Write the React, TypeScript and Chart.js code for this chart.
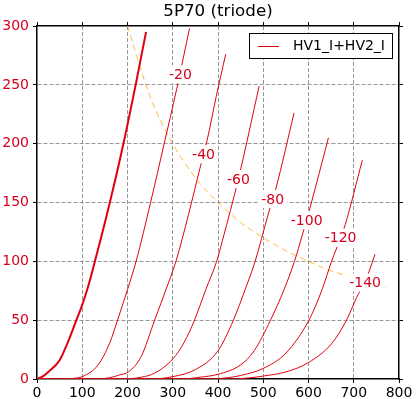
import React, { useEffect, useRef } from 'react';
import { Chart, registerables } from 'chart.js';

Chart.register(...registerables);

// ---- text ----
const chartTitle = '5P70 (triode)';
const legendLabel = 'HV1_I+HV2_I';

// ---- axes ----
const xMin = 0, xMax = 800, xStep = 100;
const yMin = 0, yMax = 300, yStep = 50;

// ---- grid voltages (one curve each) ----
const gridVoltages = [0, -20, -40, -60, -80, -100, -120, -140];

// ---- plate curves: [plate voltage V, plate current mA] ----
const vg0 = [[0, 0], [12, 2], [25, 6], [50, 16], [69, 32], [87, 50], [100, 63], [111, 76], [128, 100], [161, 150], [191, 200], [218, 250], [241, 295]];
const vg20 = [[0, 0], [60, 0], [80, 0.5], [100, 2], [135, 12], [161, 31], [178, 50], [200, 76], [219, 100], [251, 150], [281, 200], [309, 247], [337, 298]];
const vg40 = [[0, 0], [130, 0], [160, 1], [183, 3.5], [202, 6], [230, 19], [260, 50], [285, 76], [307, 100], [335, 140], [360, 179], [376, 203], [396, 240], [417, 276]];
const vg60 = [[0, 0], [190, 0], [230, 1.5], [260, 5], [300, 17], [325, 31], [348, 50], [373, 76], [397, 100], [410, 118], [445, 170], [491, 249]];
const vg80 = [[0, 0], [250, 0], [300, 2], [350, 8], [400, 24], [434, 50], [460, 76], [482, 100], [511, 140], [528, 162], [568, 226]];
const vg100 = [[0, 0], [320, 0], [360, 1.5], [400, 4], [450, 12], [480, 24], [516, 50], [546, 76], [569, 100], [586, 122], [603, 145], [644, 205]];
const vg120 = [[0, 0], [380, 0], [420, 1], [450, 3], [500, 9], [550, 22], [601, 50], [630, 76], [651, 100], [671, 120], [681, 131], [719, 186]];
const vg140 = [[0, 0], [430, 0], [470, 1], [500, 2.5], [550, 6], [600, 14], [651, 30], [684, 50], [706, 69], [725, 83], [734, 91.5], [747, 106]];
const curves = [vg0, vg20, vg40, vg60, vg80, vg100, vg120, vg140];

// ---- curve label anchors (data coordinates) ----
const labelV = [null, 317, 368, 445, 521, 596, 671, 725];
const labelI = [null, 259, 191, 170, 153, 135, 120, 82];

// ---- max plate dissipation line ----
const pdissV = [200, 250, 300, 350, 400, 450, 500, 550, 600, 650, 700, 770];
const pdissI = [300, 240, 200, 171, 150, 133, 120, 109, 100, 92, 86, 78];

const LINE_RED = 'rgb(224,0,16)';
const TEXT_RED = 'rgb(214,0,28)';
const ORANGE = 'rgba(255,165,0,0.75)';
const GRID = 'rgba(150,150,150,1)';
const FONT = "'DejaVu Sans', sans-serif";

const curveLabelPlugin = {
  id: 'curveLabels',
  afterDatasetsDraw(chart: any) {
    const { ctx, scales } = chart;
    ctx.save();
    ctx.font = `14px ${FONT}`;
    ctx.textAlign = 'center';
    ctx.textBaseline = 'middle';
    gridVoltages.forEach((vg, i) => {
      const v = labelV[i];
      const c = labelI[i];
      if (v == null || c == null) return;
      const px = scales.x.getPixelForValue(v);
      const py = scales.y.getPixelForValue(c);
      const text = String(vg);
      const w = ctx.measureText(text).width;
      ctx.fillStyle = '#ffffff';
      ctx.fillRect(px - w / 2 - 3, py - 9, w + 6, 18);
      ctx.fillStyle = TEXT_RED;
      ctx.fillText(text, px, py + 1);
    });
    ctx.restore();
  },
};

const legendBoxPlugin = {
  id: 'legendBox',
  afterDraw(chart: any) {
    const { ctx, chartArea } = chart;
    ctx.save();
    ctx.font = `14px ${FONT}`;
    const tw = ctx.measureText(legendLabel).width;
    const right = chartArea.right - 7;
    const top = chartArea.top + 7;
    const h = 25;
    const w = 9 + 21 + 14 + tw + 7;
    const left = right - w;
    ctx.fillStyle = '#ffffff';
    ctx.fillRect(left, top, w, h);
    ctx.strokeStyle = '#000000';
    ctx.lineWidth = 1;
    ctx.strokeRect(Math.round(left) + 0.5, Math.round(top) + 0.5, Math.round(w), h);
    ctx.strokeStyle = LINE_RED;
    ctx.beginPath();
    const ly = Math.round(top + h / 2) + 0.5;
    ctx.moveTo(left + 9, ly);
    ctx.lineTo(left + 30, ly);
    ctx.stroke();
    ctx.fillStyle = '#000000';
    ctx.textBaseline = 'middle';
    ctx.textAlign = 'left';
    ctx.fillText(legendLabel, left + 44, top + h / 2 + 1);
    ctx.restore();
  },
};

export default function App() {
  const ref = useRef<HTMLCanvasElement | null>(null);

  useEffect(() => {
    document.body.style.margin = '0';
    const canvas = ref.current;
    if (!canvas) return;

    const datasets: any[] = curves.map((pts, i) => ({
      label: legendLabel,
      data: pts.map(([x, y]) => ({ x, y })),
      borderColor: LINE_RED,
      backgroundColor: LINE_RED,
      borderWidth: i === 0 ? 2 : 1,
      pointRadius: 0,
      fill: false,
      cubicInterpolationMode: 'monotone',
    }));
    datasets.push({
      label: 'Pmax',
      data: pdissV.map((x, i) => ({ x, y: pdissI[i] })),
      borderColor: ORANGE,
      borderWidth: 1,
      borderDash: [6, 4],
      pointRadius: 0,
      fill: false,
      cubicInterpolationMode: 'monotone',
    });

    const edgeColor = (lo: number, hi: number) => (c: any) =>
      c.tick && (c.tick.value === lo || c.tick.value === hi) ? 'rgba(0,0,0,0)' : GRID;

    const chart = new Chart(canvas, {
      type: 'line',
      data: { datasets },
      plugins: [curveLabelPlugin, legendBoxPlugin],
      options: {
        animation: false,
        responsive: false,
        devicePixelRatio: 1,
        parsing: false,
        layout: { padding: 0 },
        plugins: {
          legend: { display: false },
          tooltip: { enabled: false },
          title: {
            display: true,
            fullSize: false,
            text: chartTitle,
            color: '#000',
            font: { family: FONT, size: 16.7, weight: 'normal' },
            padding: { top: 2, bottom: 0 },
          },
        },
        scales: {
          x: {
            type: 'linear',
            position: 'bottom',
            min: xMin,
            max: xMax,
            ticks: { stepSize: xStep, color: '#000', font: { family: FONT, size: 14 }, padding: 2, maxRotation: 0 },
            grid: { color: edgeColor(xMin, xMax), lineWidth: 1, tickLength: 4, tickColor: '#000', tickWidth: 1, tickBorderDash: [] },
            border: { color: '#000', width: 1.5, dash: [4, 2] },
            afterFit: (s: any) => { s.height = 20; },
          },
          x2: {
            type: 'linear',
            position: 'top',
            min: xMin,
            max: xMax,
            ticks: { stepSize: xStep, display: false },
            grid: { drawOnChartArea: false, tickLength: 4, tickColor: '#000', tickWidth: 1 },
            border: { color: '#000', width: 1.5 },
            afterFit: (s: any) => { s.height = 4; },
          },
          y: {
            type: 'linear',
            position: 'left',
            min: yMin,
            max: yMax,
            ticks: { stepSize: yStep, color: TEXT_RED, font: { family: FONT, size: 14 }, padding: 4 },
            grid: { color: edgeColor(yMin, yMax), lineWidth: 1, tickLength: 4, tickColor: '#000', tickWidth: 1, tickBorderDash: [] },
            border: { color: '#000', width: 1.5, dash: [4, 2] },
            afterFit: (s: any) => { s.width = 37; },
          },
          y2: {
            type: 'linear',
            position: 'right',
            min: yMin,
            max: yMax,
            ticks: { stepSize: yStep, display: false },
            grid: { drawOnChartArea: false, tickLength: 4, tickColor: '#000', tickWidth: 1 },
            border: { color: '#000', width: 1.5 },
            afterFit: (s: any) => { s.width = 20; },
          },
        },
      } as any,
    });

    return () => chart.destroy();
  }, []);

  return (
    <div style={{ width: 419, height: 399 }}>
      <canvas ref={ref} width={419} height={399} style={{ display: 'block', width: 419, height: 399 }} />
    </div>
  );
}
